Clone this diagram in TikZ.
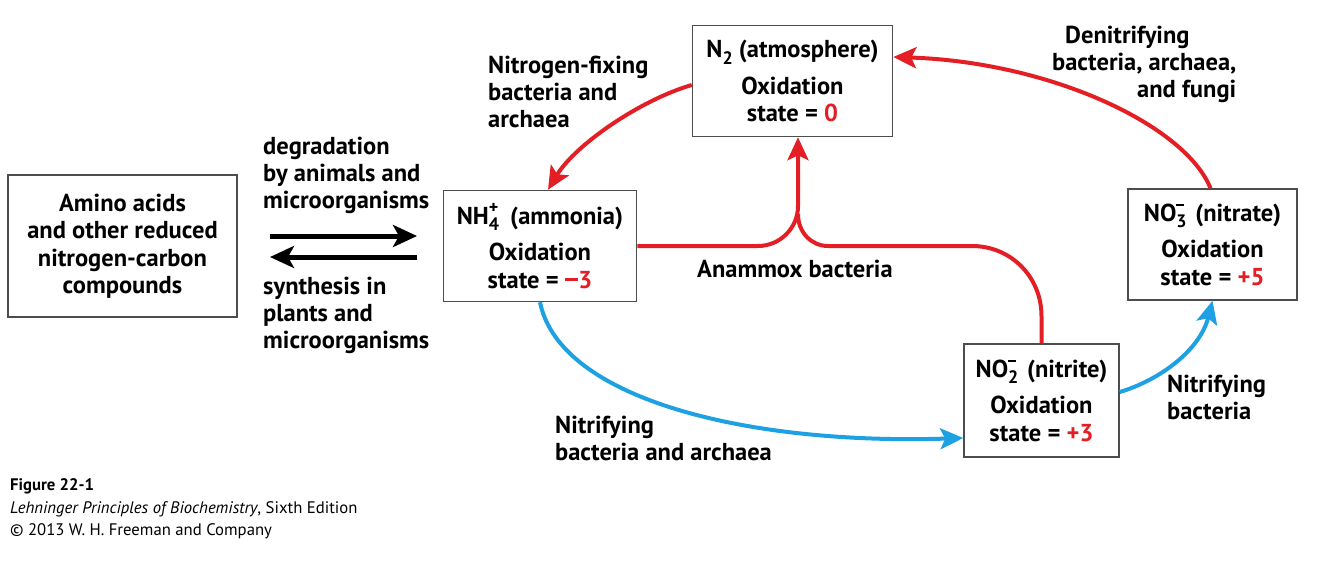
\documentclass[tikz,border=0pt]{standalone}
\usepackage{fontspec}
\setmainfont{PT Sans}
\usetikzlibrary{arrows.meta}
\definecolor{nred}{HTML}{E31E24}
\definecolor{nblue}{HTML}{1DA1E2}
\definecolor{nbox}{HTML}{4D4D4D}
\newcommand{\subsup}[2]{\rlap{\raisebox{0.42em}{\fontsize{18}{18}\selectfont #2}}\raisebox{-0.28em}{\fontsize{18}{18}\selectfont #1}}
\newcommand{\smallminus}{\rule[0.28em]{0.42em}{2pt}}
\newcommand{\bigminus}{\rule[0.3em]{0.55em}{3pt}}
\begin{document}
\begin{tikzpicture}[x=1pt,y=-1pt,
  lbl/.style={font=\fontsize{24.5}{27}\selectfont\bfseries, inner sep=0pt, anchor=base west, align=left},
  boxnode/.style={draw=nbox, line width=1.5pt, fill=white, align=center,
    font=\fontsize{24.5}{27.5}\selectfont\bfseries, inner sep=0pt},
  redline/.style={draw=nred, line width=4pt},
  redarr/.style={redline, -{Stealth[length=23pt,width=21pt,inset=5pt]}},
  bluearr/.style={draw=nblue, line width=4pt, -{Stealth[length=23pt,width=21pt,inset=5pt]}},
  blackarr/.style={draw=black, line width=5pt, -{Stealth[length=24pt,width=22pt,inset=6pt]}},
  captxt/.style={font=\fontsize{16.7}{16.7}\selectfont, inner sep=0pt, anchor=base west}
]
\useasboundingbox (0,0) rectangle (1334,579);

% boxes
\node[boxnode, minimum width=200pt, minimum height=111pt] (n2) at (792.5,81)
  {N\raisebox{-0.28em}{\fontsize{18}{18}\selectfont 2} (atmosphere)\\[9pt] Oxidation\\ state = \textcolor{nred}{0}};
\node[boxnode, minimum width=193pt, minimum height=111pt] (nh4) at (540,246)
  {NH\subsup{4}{+}\hspace{0.2em} (ammonia)\\[9pt] Oxidation\\ state = \textcolor{nred}{\bigminus3}};
\node[boxnode, minimum width=169pt, minimum height=111pt] (no3) at (1212.5,244.5)
  {NO\subsup{3}{\smallminus}\hspace{0.1em} (nitrate)\\[9pt] Oxidation\\ state = \textcolor{nred}{+5}};
\node[boxnode, minimum width=155pt, minimum height=113pt] (no2) at (1041.5,400.5)
  {NO\subsup{2}{\smallminus}\hspace{0.1em} (nitrite)\\[9pt] Oxidation\\ state = \textcolor{nred}{+3}};
\node[boxnode, minimum width=229pt, minimum height=142pt] (amino) at (122.5,246)
  {Amino acids\\ and other reduced\\ nitrogen-carbon\\ compounds};

% labels (anchored at the baseline of their last line)
\node[lbl] (fixlbl) at (488,127) {Nitrogen-fixing\\ bacteria and\\ archaea};
\node[lbl] (den1) at (1065,43) {Denitrifying};
\node[lbl] (den2) at (1052,70) {bacteria, archaea,};
\node[lbl] (den3) at (1137,97) {and fungi};
\node[lbl] (deglbl) at (263,208) {degradation\\ by animals and\\ microorganisms};
\node[lbl] (synlbl) at (263,348) {synthesis in\\ plants and\\ microorganisms};
\node[lbl] (anlbl) at (697,277) {Anammox bacteria};
\node[lbl] (nit1lbl) at (555,460) {Nitrifying\\ bacteria and archaea};
\node[lbl] (nit2lbl) at (1167,419) {Nitrifying\\ bacteria};

% caption
\node[captxt, font=\fontsize{16.7}{16.7}\selectfont\bfseries] (fig) at (10,490) {Figure 22-1};
\node[captxt] (book) at (10,513) {\textit{Lehninger Principles of Biochemistry}, Sixth Edition};
\node[captxt] (copy) at (10,535) {© 2013 W. H. Freeman and Company};

% black arrows
\coordinate (dg1) at (270,236);
\coordinate (dg2) at (417,236);
\coordinate (sy1) at (417,257);
\coordinate (sy2) at (270,257);
\draw[blackarr] (dg1) -- (dg2);
\draw[blackarr] (sy1) -- (sy2);

% nitrogen fixing
\draw[redarr] ([yshift=-4pt]n2.west) .. controls (640,100) and (575,145) .. ([xshift=8pt]nh4.north);
% denitrifying
\draw[redarr] ([xshift=-2pt]no3.north) .. controls (1185,125) and (1050,62) .. ([yshift=24pt]n2.east);
% anammox
\draw[redline] (no2.north) -- (1041.5,316) .. controls (1041.5,277) and (1011,246) .. (972,246)
  -- (828,246) .. controls (811.5,246) and (798,232.5) .. (798,214);
\draw[redarr] (nh4.east) -- (758,246) .. controls (780,246) and (798,228) .. (798,206)
  -- ([xshift=5.5pt]n2.south);
% nitrifying
\draw[bluearr] (nh4.south) .. controls (560,400) and (750,445) .. ([yshift=-37.5pt]no2.west);
\draw[bluearr] ([yshift=8.5pt]no2.east) .. controls (1160,380) and (1200,350) .. (no3.south);
\end{tikzpicture}
\end{document}
